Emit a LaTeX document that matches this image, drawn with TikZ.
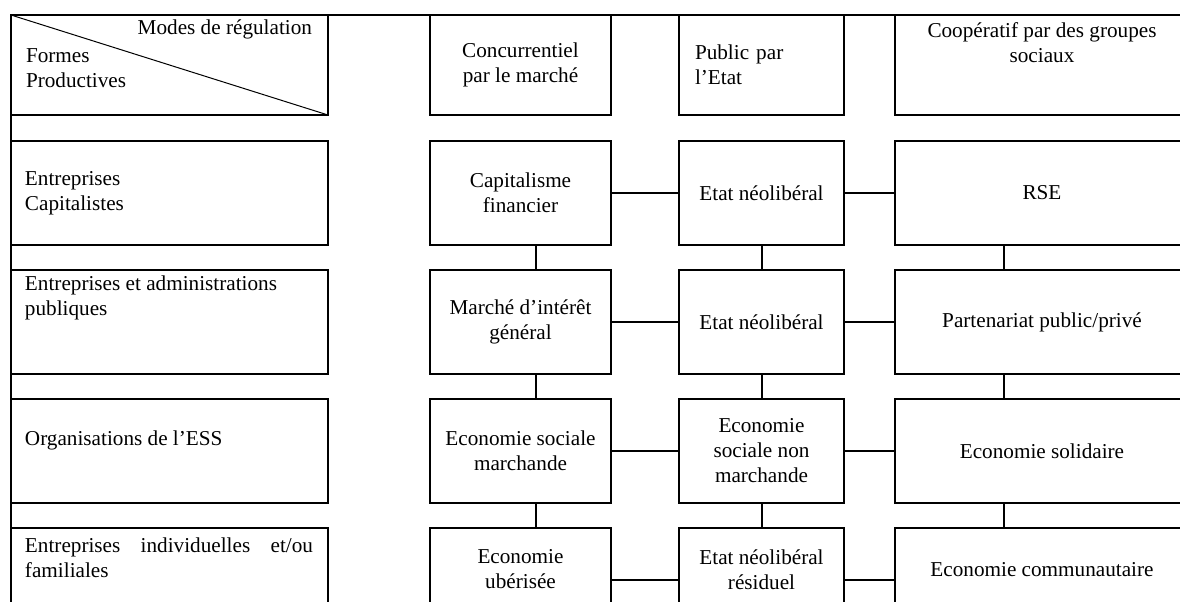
\documentclass[tikz,border=0pt]{standalone}
\usepackage{fontspec}
\setmainfont{Liberation Serif}
\hyphenpenalty=10000

\newcommand{\cellfont}{\fontsize{10.6pt}{12.5pt}\selectfont}

\begin{document}
\begin{tikzpicture}[x=0.5pt, y=-0.5pt, line width=1.1pt,
  every node/.style={align=center, inner sep=0pt, outer sep=0pt, font=\cellfont},
  cell/.style={draw, minimum height=52pt},
  headcell/.style={draw, minimum height=50pt},
  colL/.style={minimum width=158.5pt},
  colA/.style={minimum width=90.5pt},
  colB/.style={minimum width=82.5pt},
  colC/.style={minimum width=147pt},
  link/.style={line width=0.9pt}]
  \useasboundingbox (0,0) rectangle (1180,601);
  \clip (0,0) rectangle (1180,601);

  % header row
  \node[headcell, colL]
    (hdr) at (169.5, 65) {};
  \draw[line width=0.5pt] (hdr.north west) -- (hdr.south east);
  \node[anchor=east]
    (modes) at (312, 29)
    {Modes de régulation};
  \node[anchor=west, align=left]
    (formes) at (26, 68)
    {Formes\\
    Productives};

  \node[headcell, colA]
    (concur) at (520.5, 65)
    {Concurrentiel\\
    par le marché};

  \node[headcell, colB, text width=66.5pt, align=left]
    (public) at (761.5, 65)
    {Public par\\
    l’Etat};

  \node[headcell, colC]
    (coop) at (1042, 65) {};
  \node[]
    (coopt) at (1042, 42.5)
    {Coopératif par des groupes\\
    sociaux};

  % frame
  \draw (hdr.south west |- 0,700) -- (hdr.north west) -- (hdr.north west -| 1200,0);

  % Entreprises capitalistes
  \node[cell, colL, text width=144.5pt, align=left]
    (entcap) at (169.5, 193)
    {Entreprises\\
    Capitalistes};
  \node[cell, colA]
    (capfin) at (520.5, 193)
    {Capitalisme\\
    financier};
  \node[cell, colB]
    (etatA) at (761.5, 193)
    {Etat néolibéral};
  \node[cell, colC]
    (rse) at (1042, 193)
    {RSE};

  % Entreprises et administrations publiques
  \node[cell, colL]
    (entpub) at (169.5, 322) {};
  \node[anchor=west, align=left]
    (entpubt) at (25, 297.5)
    {Entreprises et administrations\\
    publiques};
  \node[cell, colA]
    (marche) at (520.5, 322)
    {Marché d’intérêt\\
    général};
  \node[cell, colB]
    (etatB) at (761.5, 322)
    {Etat néolibéral};
  \node[cell, colC]
    (ppp) at (1042, 322)
    {Partenariat public/privé};

  % Organisations de l'ESS
  \node[cell, colL]
    (orgess) at (169.5, 451) {};
  \node[anchor=west]
    (orgesst) at (25, 440)
    {Organisations de l’ESS};
  \node[cell, colA]
    (esm) at (520.5, 451)
    {Economie sociale\\
    marchande};
  \node[cell, colB]
    (esnm) at (761.5, 451)
    {Economie\\
    sociale non\\
    marchande};
  \node[cell, colC]
    (solid) at (1042, 451)
    {Economie solidaire};

  % Entreprises individuelles
  \node[cell, colL]
    (entind) at (169.5, 580) {};
  \node[anchor=west, text width=144pt, align=justify]
    (entindt) at (25, 557.5)
    {Entreprises individuelles et/ou familiales};
  \node[cell, colA]
    (uber) at (520.5, 580) {};
  \node[]
    (ubert) at (520.5, 569.5)
    {Economie\\
    ubérisée};
  \node[cell, colB]
    (resid) at (761.5, 580) {};
  \node[]
    (residt) at (761.5, 569.5)
    {Etat néolibéral\\
    résiduel};
  \node[cell, colC]
    (commu) at (1042, 580) {};
  \node[]
    (commut) at (1042, 569.5)
    {Economie communautaire};

  % links across
  \draw[link] (capfin.east) -- (etatA.west);
  \draw[link] (etatA.east) -- (rse.west);
  \draw[link] (marche.east) -- (etatB.west);
  \draw[link] (etatB.east) -- (ppp.west);
  \draw[link] (esm.east) -- (esnm.west);
  \draw[link] (esnm.east) -- (solid.west);
  \draw[link] (uber.east) -- (resid.west);
  \draw[link] (resid.east) -- (commu.west);

  % links down
  \draw[link] ([xshift=7.75pt]capfin.south) -- ([xshift=7.75pt]marche.north);
  \draw[link] ([xshift=7.75pt]marche.south) -- ([xshift=7.75pt]esm.north);
  \draw[link] ([xshift=7.75pt]esm.south) -- ([xshift=7.75pt]uber.north);
  \draw[link] ([xshift=0.25pt]etatA.south) -- ([xshift=0.25pt]etatB.north);
  \draw[link] ([xshift=0.25pt]etatB.south) -- ([xshift=0.25pt]esnm.north);
  \draw[link] ([xshift=0.25pt]esnm.south) -- ([xshift=0.25pt]resid.north);
  \draw[link] ([xshift=-19pt]rse.south) -- ([xshift=-19pt]ppp.north);
  \draw[link] ([xshift=-19pt]ppp.south) -- ([xshift=-19pt]solid.north);
  \draw[link] ([xshift=-19pt]solid.south) -- ([xshift=-19pt]commu.north);

\end{tikzpicture}
\end{document}
